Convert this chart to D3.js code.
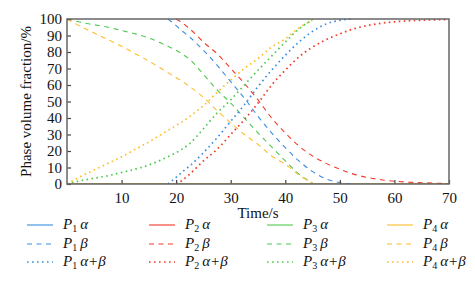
<!DOCTYPE html>
<html>
<head>
<meta charset="utf-8">
<script src="https://cdn.jsdelivr.net/npm/d3@7"></script>
<style>
  body { margin: 0; background: #fff; }
  text { font-family: "Liberation Serif", "DejaVu Serif", serif; }
</style>
</head>
<body>
<div id="chart-area"></div>
<script>
// Time points (s)
var times = [0, 2.5, 5, 7.5, 10, 12.5, 15, 17.5, 18.5, 20, 21, 22.5, 25, 27.5, 30, 32.5, 35,
  37.5, 40, 42.5, 45, 47.5, 50, 52.5, 55, 57.5, 60, 62.5, 65, 67.5, 70];

// Alpha fractions stay at zero
var alphaAll = times.map(function() { return 0; });

// Beta fractions
var p1Beta = [null, null, null, null, null, null, null, null, 100, 96, 93, 89, 81, 72, 62, 52, 41,
  31, 22, 14, 7.5, 3, 0.8, 0, null, null, null, null, null, null, null];
var p2Beta = [null, null, null, null, null, null, null, null, null, 100, 98, 94, 86, 79, 70, 61, 51,
  40, 31, 23, 17, 12.5, 9, 6, 4, 2.6, 1.7, 1.1, 0.8, 0.5, 0.3];
var p3Beta = [100, 98, 96.5, 95, 93, 91, 88.5, 85, 83.5, 81, 79, 75.5, 66.5, 57, 49, 40, 31,
  22.5, 14, 6, 0.5, null, null, null, null, null, null, null, null, null, null];
var p4Beta = [100, 95.5, 91.5, 87.5, 83.5, 79, 74.5, 69.5, 67.5, 64.5, 62.5, 59, 52.5, 44.5, 37, 30, 24,
  17, 12, 5.5, 0.5, null, null, null, null, null, null, null, null, null, null];

// Alpha+beta fractions
var p1AB = [null, null, null, null, null, null, null, null, 0, 4, 7, 11, 19, 28, 38, 48, 59,
  69, 78, 86, 92.5, 97, 99.2, 100, null, null, null, null, null, null, null];
var p2AB = [null, null, null, null, null, null, null, null, null, 0, 2, 6, 14, 21, 30, 39, 49,
  60, 69, 77, 83, 87.5, 91, 94, 96, 97.4, 98.3, 98.9, 99.2, 99.5, 99.7];
var p3AB = [0, 2, 3.5, 5, 7, 9, 11.5, 15, 16.5, 19, 21, 24.5, 33.5, 43, 51, 60, 69,
  77.5, 86, 94, 99.5, null, null, null, null, null, null, null, null, null, null];
var p4AB = [0, 4.5, 8.5, 12.5, 16.5, 21, 25.5, 30.5, 32.5, 35.5, 37.5, 41, 47.5, 55.5, 63, 70, 76,
  83, 88, 94.5, 99.5, null, null, null, null, null, null, null, null, null, null];

var xTicks = [10, 20, 30, 40, 50, 60, 70];
var yTicks = [0, 10, 20, 30, 40, 50, 60, 70, 80, 90, 100];

var colors = ["#3b8ee0", "#f23a28", "#4fca4f", "#fcbd2a"];

var series = [
  { name: "1", kind: "a", values: alphaAll },
  { name: "2", kind: "a", values: alphaAll },
  { name: "3", kind: "a", values: alphaAll },
  { name: "4", kind: "a", values: alphaAll },
  { name: "1", kind: "b", values: p1Beta },
  { name: "2", kind: "b", values: p2Beta },
  { name: "3", kind: "b", values: p3Beta },
  { name: "4", kind: "b", values: p4Beta },
  { name: "1", kind: "ab", values: p1AB },
  { name: "2", kind: "ab", values: p2AB },
  { name: "3", kind: "ab", values: p3AB },
  { name: "4", kind: "ab", values: p4AB }
];

var dashes = { a: null, b: "5,4.5", ab: "1.6,3.4" };

var margin = { left: 67, right: 26, top: 19, bottom: 109 };
var width = 475 - margin.left - margin.right;
var height = 293 - margin.top - margin.bottom;

var svg = d3.select("#chart-area")
  .append("svg")
  .attr("width", 475)
  .attr("height", 293);

var g = svg.append("g")
  .attr("transform", "translate(" + margin.left + "," + margin.top + ")");

var x = d3.scaleLinear().domain([0, 70]).range([0, width]);
var y = d3.scaleLinear().domain([0, 100]).range([height, 0]);

// Lines
var line = d3.line()
  .defined(function(d) { return d != null; })
  .x(function(d, i) { return x(times[i]); })
  .y(function(d) { return y(d); })
  .curve(d3.curveMonotoneX);

g.append("defs").append("clipPath").attr("id", "clip")
  .append("rect").attr("width", width).attr("height", height + 1).attr("y", -1);

var lines = g.append("g").attr("clip-path", "url(#clip)");

series.forEach(function(s) {
  var c = colors[+s.name - 1];
  lines.append("path")
    .attr("d", line(s.values))
    .attr("fill", "none")
    .attr("stroke", c)
    .attr("stroke-width", s.kind == "ab" ? 1.7 : 1.1)
    .attr("stroke-dasharray", dashes[s.kind]);
});

// Axes (ticks inside)
var xAxis = d3.axisBottom(x).tickValues(xTicks).tickSizeInner(-4).tickSizeOuter(0).tickPadding(8);
var yAxis = d3.axisLeft(y).tickValues(yTicks).tickSizeInner(-4).tickSizeOuter(0).tickPadding(5);

var gx = g.append("g")
  .attr("transform", "translate(0," + height + ")")
  .call(xAxis);
var gy = g.append("g").call(yAxis);

[gx, gy].forEach(function(ax) {
  ax.select(".domain").remove();
  ax.selectAll(".tick line").attr("stroke", "#444").attr("stroke-width", 1.2);
  ax.selectAll(".tick text")
    .attr("fill", "#111")
    .style("font-size", "15px")
    .style("font-family", "Liberation Serif, serif");
});

// Frame
g.append("rect")
  .attr("width", width)
  .attr("height", height)
  .attr("fill", "none")
  .attr("stroke", "#666")
  .attr("stroke-width", 1.5);

// X label
g.append("text")
  .attr("x", width / 2)
  .attr("y", height + 34)
  .attr("text-anchor", "middle")
  .attr("font-size", "15px")
  .attr("fill", "#111")
  .text("Time/s");

// Y label
g.append("text")
  .attr("x", -(height / 2))
  .attr("y", -36)
  .attr("transform", "rotate(-90)")
  .attr("text-anchor", "middle")
  .attr("font-size", "15px")
  .attr("fill", "#111")
  .text("Phase volume fraction/%");

// Legend
var colX = [27, 149, 267, 387];
var rowY = [229, 248, 266];
var kinds = ["a", "b", "ab"];
var greek = { a: "\u03b1", b: "\u03b2", ab: "\u03b1+\u03b2" };

var legend = svg.append("g");
series.forEach(function(s) {
  var col = +s.name - 1;
  var row = kinds.indexOf(s.kind);
  var lx = colX[col];
  var ly = rowY[row];
  legend.append("line")
    .attr("x1", lx).attr("x2", lx + 26)
    .attr("y1", ly - 4).attr("y2", ly - 4)
    .attr("stroke", colors[col])
    .attr("stroke-width", s.kind == "ab" ? 1.7 : 1.1)
    .attr("stroke-dasharray", dashes[s.kind]);
  var t = legend.append("text")
    .attr("x", lx + 36)
    .attr("y", ly)
    .attr("font-size", "15px")
    .attr("fill", "#111");
  t.append("tspan").attr("font-style", "italic").text("P");
  t.append("tspan").attr("font-size", "10px").attr("dy", 3).text(s.name);
  t.append("tspan").attr("dy", -3).attr("dx", 3).attr("font-style", "italic").text(greek[s.kind]);
});
</script>
</body>
</html>
